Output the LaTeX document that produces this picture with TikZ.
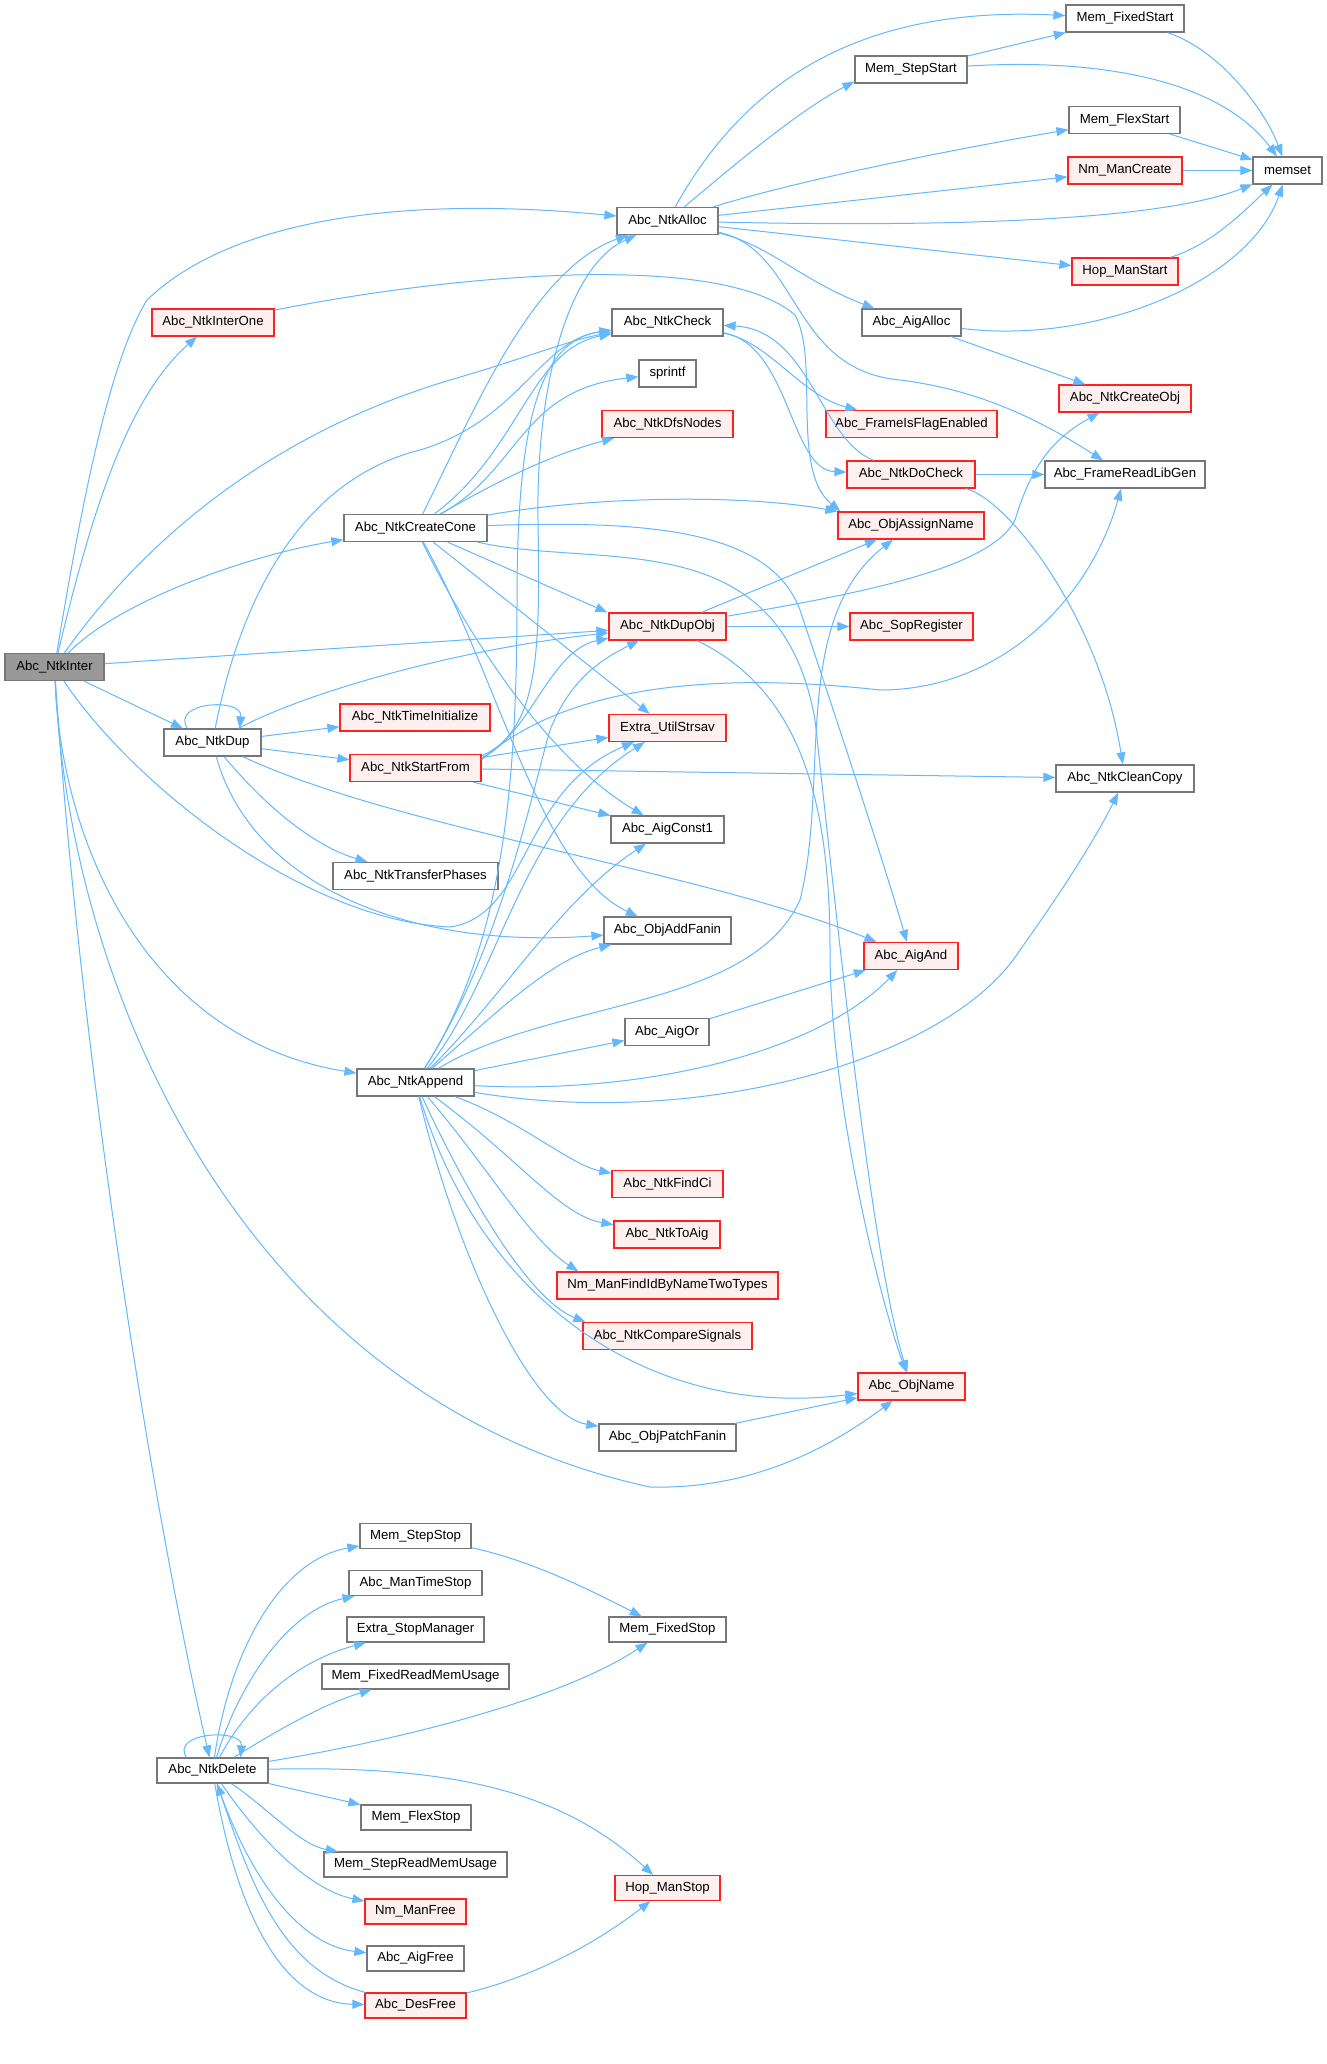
\documentclass[tikz,border=0pt]{standalone}
\usepackage{fontspec}
\setmainfont{Liberation Sans}
\usetikzlibrary{arrows.meta}
\definecolor{edgec}{HTML}{63B8FF}
\definecolor{grayb}{HTML}{777777}
\definecolor{redb}{HTML}{FF2020}
\definecolor{redf}{HTML}{FFF0F0}
\definecolor{rootf}{HTML}{999999}
\begin{document}
\begin{tikzpicture}[x=1pt,y=-1pt,
  nd/.style={draw=grayb, line width=1.2pt, fill=white, minimum height=27pt, inner xsep=0pt, inner ysep=0pt, font=\fontsize{13.2}{16}\selectfont, text=black},
  sm/.style={minimum height=25pt},
  rd/.style={nd, draw=redb, fill=redf},
  rt/.style={nd, fill=rootf},
  e/.style={draw=edgec, line width=1pt, -{Triangle[length=12pt,width=9pt]}},
]
\fill[white] (0,0) rectangle (1327,2064);
\useasboundingbox (0,0) rectangle (1327,2064);

% column A/B
\node[rt, minimum width=99] (root) at (54.5,667) {Abc\_NtkInter};
\node[rd, minimum width=122] (n1) at (213,322.5) {Abc\_NtkInterOne};
\node[nd, minimum width=97] (dup) at (212.5,742.5) {Abc\_NtkDup};
\node[nd, sm, minimum width=111] (del) at (212.5,1770.5) {Abc\_NtkDelete};
% column C
\node[nd, minimum width=143] (cone) at (415.5,528) {Abc\_NtkCreateCone};
\node[rd, minimum width=150] (tinit) at (415,717.5) {Abc\_NtkTimeInitialize};
\node[rd, minimum width=131] (start) at (415.5,768) {Abc\_NtkStartFrom};
\node[nd, minimum width=165] (trans) at (415.5,876) {Abc\_NtkTransferPhases};
\node[nd, minimum width=117] (app) at (415.5,1082.5) {Abc\_NtkAppend};
\node[nd, sm, minimum width=111] (mstepstop) at (415.5,1536) {Mem\_StepStop};
\node[nd, sm, minimum width=133] (mantime) at (415.5,1583) {Abc\_ManTimeStop};
\node[nd, sm, minimum width=137] (xstop) at (415.5,1629.5) {Extra\_StopManager};
\node[nd, sm, minimum width=187] (mfixread) at (415.5,1676.5) {Mem\_FixedReadMemUsage};
\node[nd, sm, minimum width=110] (mflexstop) at (416,1817.5) {Mem\_FlexStop};
\node[nd, sm, minimum width=183] (msteprd) at (415.5,1864.5) {Mem\_StepReadMemUsage};
\node[rd, sm, minimum width=101] (nmfree) at (415.5,1911.5) {Nm\_ManFree};
\node[nd, sm, minimum width=97] (aigfree) at (415.5,1958.5) {Abc\_AigFree};
\node[rd, sm, minimum width=101] (desfree) at (415.5,2005.5) {Abc\_DesFree};
% column D
\node[nd, minimum width=101] (alloc) at (667.5,221) {Abc\_NtkAlloc};
\node[nd, minimum width=111] (check) at (667.5,322.5) {Abc\_NtkCheck};
\node[nd, minimum width=57] (sprintf) at (667.5,373.5) {sprintf};
\node[rd, minimum width=131] (dfs) at (667.5,424) {Abc\_NtkDfsNodes};
\node[rd, minimum width=117] (dupobj) at (667.5,626.5) {Abc\_NtkDupObj};
\node[rd, minimum width=117] (strsav) at (667.5,728) {Extra\_UtilStrsav};
\node[nd, minimum width=113] (const1) at (667.5,829.5) {Abc\_AigConst1};
\node[nd, minimum width=127] (addfanin) at (667.5,930.5) {Abc\_ObjAddFanin};
\node[nd, minimum width=84] (aigor) at (667,1032) {Abc\_AigOr};
\node[rd, minimum width=111] (findci) at (667.5,1184) {Abc\_NtkFindCi};
\node[rd, minimum width=106] (toaig) at (667,1234.5) {Abc\_NtkToAig};
\node[rd, minimum width=221] (nmfind) at (667.5,1285.5) {Nm\_ManFindIdByNameTwoTypes};
\node[rd, minimum width=169] (cmpsig) at (667.5,1336) {Abc\_NtkCompareSignals};
\node[nd, minimum width=137] (patch) at (667.5,1437.5) {Abc\_ObjPatchFanin};
\node[nd, sm, minimum width=117] (mfixstop) at (667.5,1629.5) {Mem\_FixedStop};
\node[rd, sm, minimum width=105] (hopstop) at (667.5,1888) {Hop\_ManStop};
% column E
\node[nd, minimum width=112] (mstepstart) at (911,69.5) {Mem\_StepStart};
\node[nd, minimum width=99] (aigalloc) at (911.5,322.5) {Abc\_AigAlloc};
\node[rd, minimum width=171] (flag) at (911.5,424) {Abc\_FrameIsFlagEnabled};
\node[rd, minimum width=128] (docheck) at (911,474.5) {Abc\_NtkDoCheck};
\node[rd, minimum width=146] (assign) at (911,525.5) {Abc\_ObjAssignName};
\node[rd, minimum width=123] (sop) at (911.5,626.5) {Abc\_SopRegister};
\node[rd, minimum width=94] (aigand) at (911,956) {Abc\_AigAnd};
\node[rd, minimum width=107] (objname) at (911.5,1386.5) {Abc\_ObjName};
% column F/G
\node[nd, minimum width=118] (mfixstart) at (1125,18.5) {Mem\_FixedStart};
\node[nd, minimum width=111] (mflexstart) at (1124.5,120) {Mem\_FlexStart};
\node[rd, minimum width=114] (nmcreate) at (1125,170.5) {Nm\_ManCreate};
\node[rd, minimum width=106] (hopstart) at (1125,271.5) {Hop\_ManStart};
\node[rd, minimum width=132] (createobj) at (1125,398.5) {Abc\_NtkCreateObj};
\node[nd, minimum width=160] (libgen) at (1125,474.5) {Abc\_FrameReadLibGen};
\node[nd, minimum width=138] (cleancopy) at (1125,778.5) {Abc\_NtkCleanCopy};
\node[nd, minimum width=69] (memset) at (1287.5,170.5) {memset};

% ---- edges from Abc_NtkInter
\draw[e] (root) .. controls (82,500) and (110,360) .. (147,300) .. controls (230,220) and (400,195) .. (alloc);
\draw[e] (root) .. controls (90,520) and (125,400) .. (n1);
\draw[e] (root) .. controls (130,560) and (250,440) .. (450,380) .. controls (520,360) and (570,340) .. (check);
\draw[e] (root) .. controls (120,600) and (250,555) .. (cone);
\draw[e] (root) -- (dupobj);
\draw[e] (root) -- (dup);
\draw[e] (root) .. controls (130,780) and (300,920) .. (450,927) .. controls (530,915) and (520,790) .. (strsav);
\draw[e] (root) .. controls (62,850) and (150,1040) .. (app);
\draw[e] (root) .. controls (70,1000) and (250,1400) .. (650,1487) .. controls (760,1490) and (840,1440) .. (objname);
\draw[e] (root) .. controls (80,1050) and (150,1500) .. (del);

% ---- Abc_NtkInterOne
\draw[e] (n1) .. controls (450,275) and (720,250) .. (795,315) .. controls (820,360) and (790,470) .. ([xshift=3pt]assign.north west);

% ---- Abc_NtkAlloc
\draw[e] (alloc) .. controls (740,90) and (850,5) .. (mfixstart);
\draw[e] (alloc) .. controls (740,160) and (800,110) .. ([yshift=2pt]mstepstart.south west);
\draw[e] (alloc) .. controls (800,180) and (950,150) .. (mflexstart);
\draw[e] (alloc) -- (nmcreate);
\draw[e] (alloc) .. controls (900,226) and (1150,225) .. (memset);
\draw[e] (alloc) -- (hopstart);
\draw[e] (alloc) .. controls (770,245) and (800,280) .. (aigalloc);
\draw[e] (alloc) .. controls (800,250) and (790,370) .. (900,380) .. controls (980,390) and (1040,420) .. (libgen);

% ---- memory / memset group
\draw[e] (mstepstart) -- (mfixstart);
\draw[e] (mstepstart) .. controls (1100,58) and (1220,80) .. (memset);
\draw[e] (mfixstart) .. controls (1220,50) and (1265,110) .. (memset);
\draw[e] (mflexstart) -- (memset);
\draw[e] (nmcreate) -- (memset);
\draw[e] (hopstart) .. controls (1210,245) and (1240,215) .. (memset);
\draw[e] (aigalloc) .. controls (1100,345) and (1250,280) .. (memset);
\draw[e] (aigalloc) -- (createobj);

% ---- Abc_NtkCheck / DoCheck
\draw[e] (check) .. controls (770,342) and (800,395) .. (flag);
\draw[e] (check) .. controls (790,345) and (790,470) .. (docheck);
\draw[e] (docheck) .. controls (820,440) and (810,330) .. (check);
\draw[e] (docheck) -- (libgen);
\draw[e] (docheck) .. controls (1010,500) and (1100,620) .. (cleancopy);

% ---- Abc_NtkDupObj
\draw[e] (dupobj) -- (assign);
\draw[e] (dupobj) .. controls (850,595) and (990,570) .. (1015,520) .. controls (1030,470) and (1050,440) .. (createobj);
\draw[e] (dupobj) -- (sop);
\draw[e] (dupobj) .. controls (800,690) and (830,800) .. (830,950) .. controls (830,1100) and (880,1300) .. (objname);

% ---- Abc_NtkCreateCone
\draw[e] (cone) .. controls (470,420) and (530,270) .. (alloc);
\draw[e] (cone) .. controls (520,450) and (530,350) .. (check);
\draw[e] (cone) .. controls (520,470) and (520,390) .. (sprintf);
\draw[e] (cone) .. controls (500,480) and (550,455) .. (dfs);
\draw[e] (cone) .. controls (600,495) and (750,495) .. (assign);
\draw[e] (cone) .. controls (650,520) and (770,530) .. (800,610) .. controls (830,700) and (880,850) .. (aigand);
\draw[e] (cone) .. controls (600,570) and (780,520) .. (815,720) .. controls (835,900) and (870,1250) .. (objname);
\draw[e] (cone) -- ([xshift=-1pt]dupobj.north west);
\draw[e] (cone) -- (strsav);
\draw[e] (cone) .. controls (470,640) and (550,760) .. (const1);
\draw[e] (cone) .. controls (500,680) and (540,870) .. (addfanin);

% ---- Abc_NtkDup
\draw[e] ([xshift=24pt]dup.north west) .. controls (170,702) and (243,697) .. ([xshift=-22pt]dup.north east);
\draw[e] (dup) .. controls (240,600) and (300,480) .. (420,450) .. controls (520,420) and (540,340) .. (check);
\draw[e] (dup) .. controls (300,695) and (450,650) .. (dupobj);
\draw[e] (dup) -- (tinit);
\draw[e] (dup) -- (start);
\draw[e] (dup) .. controls (400,830) and (700,870) .. (aigand);
\draw[e] (dup) .. controls (260,800) and (310,845) .. (trans);
\draw[e] (dup) .. controls (250,880) and (400,950) .. (addfanin);

% ---- Abc_NtkStartFrom
\draw[e] ([yshift=-2pt]start.north east) .. controls (540,730) and (540,650) .. (538,520) .. controls (536,380) and (570,265) .. (alloc);
\draw[e] ([yshift=-4pt]start.north east) .. controls (530,735) and (550,650) .. (dupobj);
\draw[e] ([yshift=-6pt]start.north east) .. controls (560,690) and (700,670) .. (880,690) .. controls (1000,690) and (1090,600) .. (libgen);
\draw[e] (start) -- (strsav);
\draw[e] (start) -- (cleancopy);
\draw[e] (start) -- (const1);

% ---- Abc_NtkAppend
\draw[e] (app) .. controls (500,950) and (517,800) .. (517,600) .. controls (517,420) and (540,340) .. (check);
\draw[e] (app) .. controls (500,950) and (530,800) .. (550,730) .. controls (570,680) and (600,660) .. (dupobj);
\draw[e] (app) .. controls (500,980) and (520,820) .. (strsav);
\draw[e] (app) .. controls (500,1000) and (560,900) .. (const1);
\draw[e] (app) .. controls (500,1010) and (550,960) .. (addfanin);
\draw[e] (app) .. controls (550,1000) and (750,1010) .. (800,900) .. controls (830,780) and (790,620) .. (assign);
\draw[e] (app) -- (aigor);
\draw[e] (app) .. controls (650,1095) and (820,1050) .. (aigand);
\draw[e] (app) .. controls (700,1130) and (950,1060) .. (1020,950) .. controls (1070,880) and (1100,830) .. (cleancopy);
\draw[e] (app) .. controls (520,1120) and (570,1165) .. (findci);
\draw[e] (app) .. controls (520,1160) and (560,1215) .. (toaig);
\draw[e] (app) .. controls (490,1170) and (530,1240) .. ([xshift=22pt]nmfind.north west);
\draw[e] (app) .. controls (470,1200) and (530,1300) .. ([xshift=3pt]cmpsig.north west);
\draw[e] (app) .. controls (480,1300) and (650,1420) .. (objname);
\draw[e] (app) .. controls (455,1250) and (530,1415) .. (patch);
\draw[e] (patch) -- (objname);
\draw[e] (aigor) -- (aigand);

% ---- Abc_NtkDelete
\draw[e] ([xshift=30pt]del.north west) .. controls (170,1732) and (243,1728) .. ([xshift=-28pt]del.north east);
\draw[e] (del) .. controls (230,1650) and (280,1560) .. (mstepstop);
\draw[e] (del) .. controls (240,1680) and (290,1610) .. (mantime);
\draw[e] (del) .. controls (250,1700) and (300,1660) .. (xstop);
\draw[e] (del) .. controls (270,1735) and (320,1705) .. (mfixread);
\draw[e] (del) .. controls (400,1740) and (560,1700) .. (mfixstop);
\draw[e] (del) .. controls (450,1765) and (560,1790) .. (hopstop);
\draw[e] (del) -- (mflexstop);
\draw[e] (del) .. controls (270,1810) and (300,1845) .. (msteprd);
\draw[e] (del) .. controls (260,1840) and (310,1890) .. (nmfree);
\draw[e] (del) .. controls (250,1880) and (300,1945) .. (aigfree);
\draw[e] (del) .. controls (240,1930) and (290,2003) .. (desfree);
\draw[e] (desfree) .. controls (280,1970) and (250,1880) .. (del);
\draw[e] (mstepstop) .. controls (530,1560) and (590,1590) .. (mfixstop);
\draw[e] (desfree) .. controls (540,1975) and (600,1940) .. (hopstop);
\end{tikzpicture}
\end{document}
